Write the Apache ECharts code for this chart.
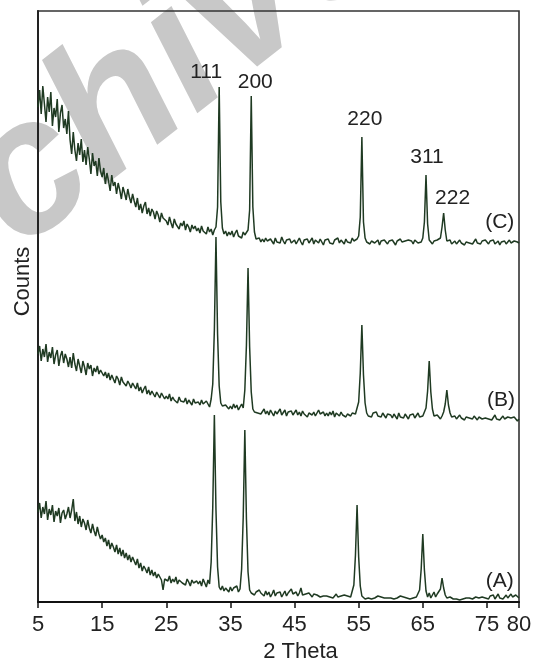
<!DOCTYPE html>
<html>
<head>
<meta charset="utf-8">
<script src="https://cdn.jsdelivr.net/npm/echarts@6/dist/echarts.min.js"></script>
<style>
  html, body { margin: 0; padding: 0; background: #fff; }
  #main { width: 535px; height: 661px; }
</style>
</head>
<body>
<div id="main"></div>
<script>
// scan grid: 5 -> 80 deg, step 0.25 (301 points per pattern)
const thetaStart = 5
const thetaStep = 0.25

// counts (arbitrary units, patterns already offset vertically as in the figure)
const countsC = [
  495,512,488,516,498,480,505,490,510,476,494,485,503,470,489,497,474,483,468,491,
  462,448,470,452,441,459,447,463,440,452,437,455,443,428,449,436,441,426,444,431,
  425,434,418,429,421,411,427,416,420,408,419,412,403,415,409,402,413,405,399,408,
  401,395,404,392,398,389,396,400,388,394,386,393,390,383,391,387,380,389,384,386,
  381,377,385,379,374,383,378,380,373,379,376,381,372,378,375,370,377,373,376,371,
  374,369,376,371,373,368,375,370,373,367,372,375,395,515,400,374,368,371,366,370,
  367,371,365,369,372,366,368,364,370,367,366,372,392,506,395,370,363,361,364,360,
  363,360,364,361,359,363,362,358,364,360,362,359,365,361,358,362,360,363,359,361,
  362,358,361,364,360,357,362,360,363,359,361,364,358,362,360,359,363,361,357,362,
  360,363,359,361,358,362,360,364,359,362,361,358,363,360,362,359,364,361,360,363,
  366,385,465,380,364,360,362,358,361,363,359,360,362,357,361,359,362,360,358,361,
  359,362,360,357,361,359,363,360,358,361,359,362,360,361,358,362,360,359,361,360,
  364,380,427,378,362,360,358,361,359,362,360,364,375,389,372,361,359,362,358,360,
  361,358,360,362,359,361,357,360,362,359,361,358,360,363,359,360,358,361,359,362,
  360,358,361,359,362,358,360,361,357,360,359,361,358,360,362,359,358,361,359,360,359
]
const countsB = [
  248,256,241,253,245,258,240,250,244,255,238,247,252,236,246,251,239,248,243,235,
  245,234,249,238,231,243,236,229,241,235,227,239,233,237,226,234,230,236,228,232,
  233,226,230,224,229,222,227,225,219,226,223,217,225,220,222,216,221,218,214,219,
  217,213,219,211,215,209,213,216,208,212,207,211,209,205,210,207,204,209,206,203,
  206,203,208,201,205,202,204,199,205,201,203,200,204,198,202,200,197,203,199,201,
  200,197,202,198,196,201,199,195,203,218,272,365,268,216,199,196,194,197,195,193,
  196,193,198,194,197,192,195,198,194,212,257,334,255,210,193,190,192,189,191,188,
  190,193,188,191,187,192,189,186,191,188,190,193,187,189,192,186,190,188,191,187,
  189,192,187,190,186,191,188,190,185,189,191,187,190,186,189,192,188,187,190,186,
  189,186,190,187,191,185,189,188,186,190,187,189,185,188,190,186,189,187,188,190,
  200,229,277,227,199,189,186,188,185,189,187,190,186,188,185,189,187,184,188,186,
  187,184,188,186,183,189,185,187,184,188,186,183,187,185,188,184,186,189,185,187,
  186,188,194,211,241,210,193,186,184,187,185,183,186,190,198,212,197,189,185,184,
  186,183,185,187,184,186,182,185,187,184,185,183,186,184,182,185,187,183,185,184,
  186,183,185,182,184,187,183,185,182,184,186,183,181,185,183,184,182,185,183,181,183
]
const countsA = [
  90,99,84,95,88,101,82,93,87,97,80,91,86,94,79,89,92,83,88,95,
  84,92,103,81,90,78,86,75,83,79,72,82,74,69,78,71,66,75,68,63,
  67,60,64,56,62,53,59,55,50,57,48,54,46,52,44,49,42,47,40,45,
  41,37,43,34,39,31,36,33,29,35,27,32,26,30,24,28,25,22,12,23,
  24,21,26,19,23,20,25,18,22,24,19,21,17,23,20,16,22,19,17,21,
  18,21,16,23,19,15,22,18,40,95,187,92,35,15,12,16,11,14,13,10,
  15,11,14,12,16,10,13,33,85,172,83,30,12,9,11,7,10,8,12,9,
  9,6,11,7,10,5,8,12,6,9,7,10,5,8,11,6,9,7,13,8,
  7,10,6,9,14,7,5,8,6,9,7,5,8,6,7,9,5,7,6,8,
  6,8,5,7,4,6,8,5,7,6,4,7,5,6,8,5,6,17,47,97,
  45,16,6,4,3,5,4,6,3,5,4,3,6,4,5,3,4,6,4,5,
  4,6,3,5,4,3,6,4,5,3,4,6,3,5,4,6,5,7,12,33,
  68,32,11,5,9,4,7,10,5,8,7,13,24,14,7,4,3,5,4,3,
  4,3,5,2,4,3,5,4,2,4,6,3,4,5,3,4,2,5,3,4,
  5,3,6,4,7,3,5,8,4,6,3,5,7,4,6,8,5,3,7,5,4
]

// reflections marked on pattern C
const millerIndices = ['111', '200', '220', '311', '222']
const peakThetaC = [33.25, 38.25, 55.5, 65.5, 68.25]
const peakCountsC = [515, 506, 465, 427, 389]

const sampleNames = ['(A)', '(B)', '(C)']
const sampleLabelTheta = [77.0, 77.2, 77.0]
const sampleLabelCounts = [21, 202, 380]

const xTickValues = [5, 15, 25, 35, 45, 55, 65, 75, 80]

const toPairs = arr => arr.map((v, i) => [thetaStart + i * thetaStep, v])

const font = 'Liberation Sans, Arial, sans-serif'
const lineColor = '#1f3a22'
const labelShift = [[-13, 0], [4, 1], [3, -3], [1, -3], [9, 0]]

const sampleItem = idx => ({
  name: sampleNames[idx],
  coord: [sampleLabelTheta[idx], sampleLabelCounts[idx]],
  label: { position: 'inside', distance: 0, offset: [0, 0] }
})

const markLabel = { show: true, color: '#222', fontSize: 21, fontFamily: font, formatter: '{b}' }

const chart = echarts.init(document.getElementById('main'), null, { renderer: 'canvas' })

const option = {
  animation: false,
  backgroundColor: '#fff',
  graphic: [{
    type: 'text',
    x: 96, y: 126,
    rotation: 38 * Math.PI / 180,
    z: -10,
    silent: true,
    style: {
      text: 'Archive',
      font: 'italic bold 190px Liberation Sans',
      fill: '#c8c8c8',
      align: 'center',
      verticalAlign: 'middle'
    }
  }],
  grid: {
    left: 38, right: 16, top: 11, bottom: 59,
    outerBoundsMode: 'none',
    containLabel: false,
    show: true, borderColor: '#333', borderWidth: 1.6
  },
  xAxis: {
    type: 'value',
    min: 5,
    max: 80,
    name: '2 Theta',
    nameLocation: 'middle',
    nameGap: 36,
    nameTextStyle: { fontSize: 22, color: '#222', fontFamily: font, padding: [0, 0, 0, 44] },
    axisLine: { lineStyle: { color: '#111', width: 2 } },
    axisTick: { customValues: xTickValues, length: 6, lineStyle: { color: '#111', width: 1.5 } },
    axisLabel: { customValues: xTickValues, fontSize: 22, color: '#222', fontFamily: font, margin: 12 },
    splitLine: { show: false }
  },
  yAxis: {
    type: 'value',
    min: 0,
    max: 591,
    name: 'Counts',
    nameLocation: 'middle',
    nameGap: 4,
    nameTextStyle: { fontSize: 22, color: '#222', fontFamily: font, padding: [0, 0, 0, 50] },
    axisLine: { show: true, lineStyle: { color: '#222', width: 2 } },
    axisTick: { show: false },
    axisLabel: { show: false },
    splitLine: { show: false }
  },
  series: [
    {
      name: 'A', type: 'line', data: toPairs(countsA), showSymbol: false, sampling: 'none',
      lineStyle: { color: lineColor, width: 1.5 },
      markPoint: { symbolSize: 0, silent: true, label: markLabel, data: [sampleItem(0)] }
    },
    {
      name: 'B', type: 'line', data: toPairs(countsB), showSymbol: false, sampling: 'none',
      lineStyle: { color: lineColor, width: 1.5 },
      markPoint: { symbolSize: 0, silent: true, label: markLabel, data: [sampleItem(1)] }
    },
    {
      name: 'C', type: 'line', data: toPairs(countsC), showSymbol: false, sampling: 'none',
      lineStyle: { color: lineColor, width: 1.5 },
      markPoint: {
        symbolSize: 0,
        silent: true,
        label: Object.assign({}, markLabel, { position: 'top', distance: 4 }),
        data: millerIndices.map((hkl, i) => ({
          name: hkl,
          coord: [peakThetaC[i], peakCountsC[i]],
          label: { offset: labelShift[i] }
        })).concat([sampleItem(2)])
      }
    }
  ]
}

chart.setOption(option)
</script>
</body>
</html>
